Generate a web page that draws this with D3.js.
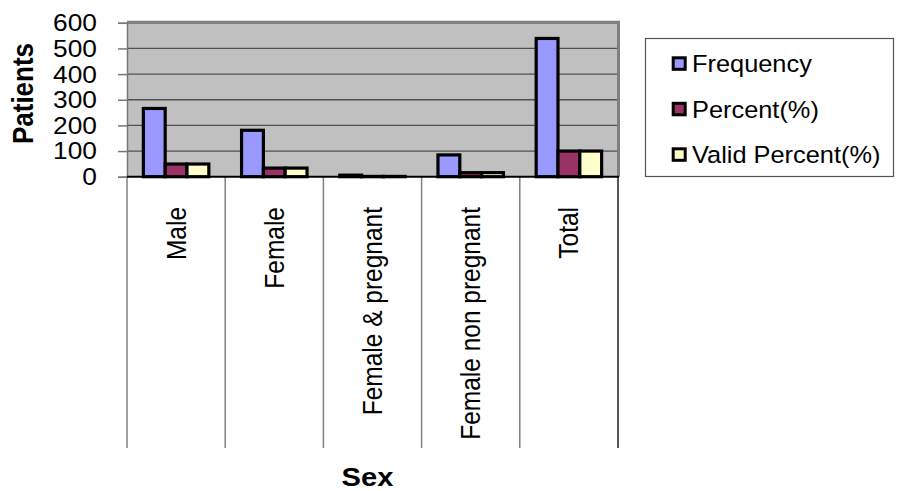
<!DOCTYPE html>
<html>
<head>
<meta charset="utf-8">
<script src="https://cdn.jsdelivr.net/npm/d3@7"></script>
<style>
  html, body { margin: 0; padding: 0; background: #fff; }
  svg { display: block; font-family: "Liberation Sans", Arial, sans-serif; }
</style>
</head>
<body>
<svg id="chart" width="898" height="491"></svg>
<script>
const categories = ["Male", "Female", "Female & pregnant", "Female non pregnant", "Total"];
const seriesNames = ["Frequency", "Percent(%)", "Valid Percent(%)"];
const frequency = [266, 181, 6, 85, 539];
const percent = [49.4, 33.6, 1.1, 15.8, 100];
const validPercent = [49.4, 33.6, 1.1, 15.8, 100];
const yTicks = [0, 100, 200, 300, 400, 500, 600];
const colors = ["#9999FF", "#993366", "#FFFFCC"];

const seriesValues = [frequency, percent, validPercent];
const svg = d3.select("#chart");
const SX = 1.12; // horizontal text stretch of the original

const plot = { left: 127, right: 618, top: 22.8, bottom: 176.7 };
const x = d3.scaleBand().domain(categories).range([plot.left, plot.right]).padding(0);
const y = d3.scaleLinear().domain([0, 600]).range([plot.bottom, plot.top]);
const inner = d3.scaleBand().domain(seriesNames)
  .range([0, x.bandwidth()]).paddingInner(0).paddingOuter(0.75);

// plot background
svg.append("rect")
  .attr("x", plot.left).attr("y", plot.top - 1)
  .attr("width", plot.right - plot.left).attr("height", plot.bottom - plot.top + 1)
  .attr("fill", "#C0C0C0");

// gridlines
svg.append("g").selectAll("line").data(yTicks.filter(d => d > 0)).join("line")
  .attr("x1", plot.left).attr("x2", plot.right)
  .attr("y1", d => y(d)).attr("y2", d => y(d))
  .attr("stroke", "#505050").attr("stroke-width", 1.3);

// plot border top & right
svg.append("path")
  .attr("d", `M${plot.left},${plot.top - 0.5} H${plot.right + 0.5} V${plot.bottom}`)
  .attr("fill", "none").attr("stroke", "#808080").attr("stroke-width", 3);

// y axis
const yAxis = d3.axisLeft(y).tickValues(yTicks).tickSize(9).tickFormat(d3.format("d"));
const ya = svg.append("g").attr("transform", `translate(${plot.left},0)`).call(yAxis);
ya.select(".domain").attr("stroke", "#777").attr("stroke-width", 1.5);
ya.selectAll(".tick line").attr("stroke", "#777").attr("stroke-width", 1.5);
ya.selectAll(".tick text").remove();
svg.append("g").selectAll("text").data(yTicks).join("text")
  .attr("transform", d => `translate(97,${y(d) + 8.4}) scale(${SX},1)`)
  .attr("text-anchor", "end")
  .attr("font-size", 23.5).attr("fill", "#000")
  .text(d => d);

// category separator lines
const sepXs = categories.map(c => x(c)).concat([plot.right]);
svg.append("g").selectAll("line").data(sepXs).join("line")
  .attr("x1", d => d).attr("x2", d => d)
  .attr("y1", plot.bottom).attr("y2", 448)
  .attr("stroke", (d, i) => i === sepXs.length - 1 ? "#222" : "#808080")
  .attr("stroke-width", 1.5);

// bars
const groups = svg.append("g").selectAll("g").data(categories).join("g")
  .attr("transform", d => `translate(${x(d)},0)`);
groups.selectAll("rect")
  .data((c, ci) => seriesNames.map((s, si) => ({ s, si, v: seriesValues[si][ci] })))
  .join("rect")
  .attr("x", d => inner(d.s))
  .attr("width", inner.bandwidth())
  .attr("y", d => y(d.v))
  .attr("height", d => y(0) - y(d.v))
  .attr("fill", d => colors[d.si])
  .attr("stroke", "#000").attr("stroke-width", 3.2);

// bottom axis line
svg.append("line")
  .attr("x1", plot.left).attr("x2", plot.right + 1)
  .attr("y1", plot.bottom).attr("y2", plot.bottom)
  .attr("stroke", "#000").attr("stroke-width", 2);

// category labels (rotated)
svg.append("g").selectAll("text").data(categories).join("text")
  .attr("transform", d => `translate(${x(d) + x.bandwidth() / 2 + 9.5},207) scale(${SX},1) rotate(-90)`)
  .attr("text-anchor", "end")
  .attr("font-size", 24.5).attr("fill", "#000")
  .text(d => d);

// axis titles
svg.append("text")
  .attr("transform", `translate(33,93.5) scale(${SX},1) rotate(-90)`)
  .attr("text-anchor", "middle")
  .attr("font-size", 26).attr("font-weight", "bold")
  .text("Patients");
svg.append("text")
  .attr("transform", `translate(367.5,486) scale(${SX},1)`)
  .attr("text-anchor", "middle")
  .attr("font-size", 26).attr("font-weight", "bold")
  .text("Sex");

// legend
svg.append("rect")
  .attr("x", 645.5).attr("y", 38.5).attr("width", 248).attr("height", 138)
  .attr("fill", "#fff").attr("stroke", "#555").attr("stroke-width", 1.2);
const leg = svg.append("g").selectAll("g").data(seriesNames).join("g")
  .attr("transform", (d, i) => `translate(0,${64 + i * 45.5})`);
leg.append("rect")
  .attr("x", 673.2).attr("y", -6.2).attr("width", 12).attr("height", 11.5)
  .attr("fill", (d, i) => colors[i]).attr("stroke", "#000").attr("stroke-width", 3);
leg.append("text")
  .attr("transform", `translate(692,8.4) scale(1.08,1)`)
  .attr("font-size", 23.5).attr("fill", "#000")
  .text(d => d);
</script>
</body>
</html>
